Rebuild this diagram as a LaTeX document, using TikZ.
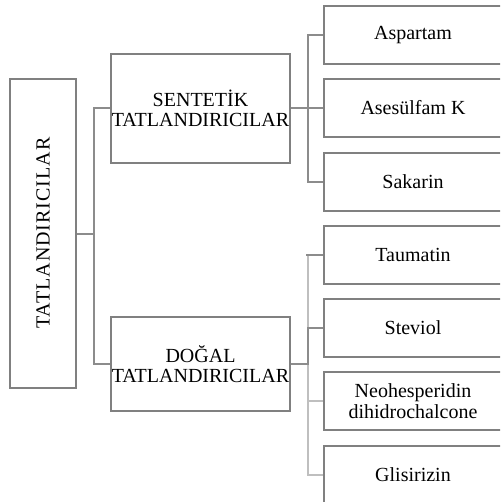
\documentclass[tikz,border=0pt]{standalone}
\usepackage{fontspec}
\setmainfont{Liberation Serif}
\usepackage{xcolor}
\usetikzlibrary{positioning}

\begin{document}
\begin{tikzpicture}[x=1pt, y=-1pt,
    every node/.style={font=\fontsize{20}{20.5}\selectfont},
    box/.style={draw=black!50, line width=2pt, align=center, inner sep=0pt},
    rootbox/.style={box, minimum width=66pt, minimum height=309pt},
    groupbox/.style={box, minimum width=179pt},
    leafbox/.style={box, minimum width=178pt, minimum height=58pt},
    branch/.style={draw=black!45, line width=2pt},
    lightbranch/.style={draw=black!25, line width=2pt}]
  % Page frame
  \useasboundingbox (0,0) rectangle (500,502);
  \clip (0,0) rectangle (500,502);

  % Root
  \node[rootbox] (root) at (43,233.5) {};
  \node[rotate=90] (rootlabel) at (43,233) {\addfontfeature{LetterSpace=5}TATLANDIRICILAR};

  % Groups
  \node[groupbox, minimum height=109pt] (sen) at (200.5,108.5) {SENTET\.{I}K\\TATLANDIRICILAR};
  \node[groupbox, minimum height=94pt] (dog) at (200.5,364) {DO\u{G}AL\\TATLANDIRICILAR};

  % Leaves
  \node[leafbox] (asp) at (413,35.5) {Aspartam};
  \node[leafbox] (ase) at (413,108) {Asesülfam K};
  \node[leafbox] (sak) at (413,182) {Sakarin};
  \node[leafbox] (tau) at (413,255) {Taumatin};
  \node[leafbox] (ste) at (413,328) {Steviol};
  \node[leafbox] (neo) at (413,401) {Neohesperidin\\dihidrochalcone};
  \node[leafbox] (gli) at (413,475) {Glisirizin};

  % Connectors
  \draw[branch] (root.east) -- ++(17,0) |- (sen.west);
  \draw[branch] (root.east) -- ++(17,0) |- (dog.west);
  \foreach \leaf in {asp,ase,sak} {
    \draw[branch] (sen.east) -- ++(17,0) |- (\leaf.west);
  }
  \foreach \leaf in {tau,neo,gli} {
    \draw[lightbranch] (dog.east) -- ++(17,0) |- (\leaf.west);
  }
  \draw[branch] (dog.east) -- ++(17,0) |- (ste.west);
  \draw[branch] (tau.west) -- ++(-17,0);
\end{tikzpicture}
\end{document}
